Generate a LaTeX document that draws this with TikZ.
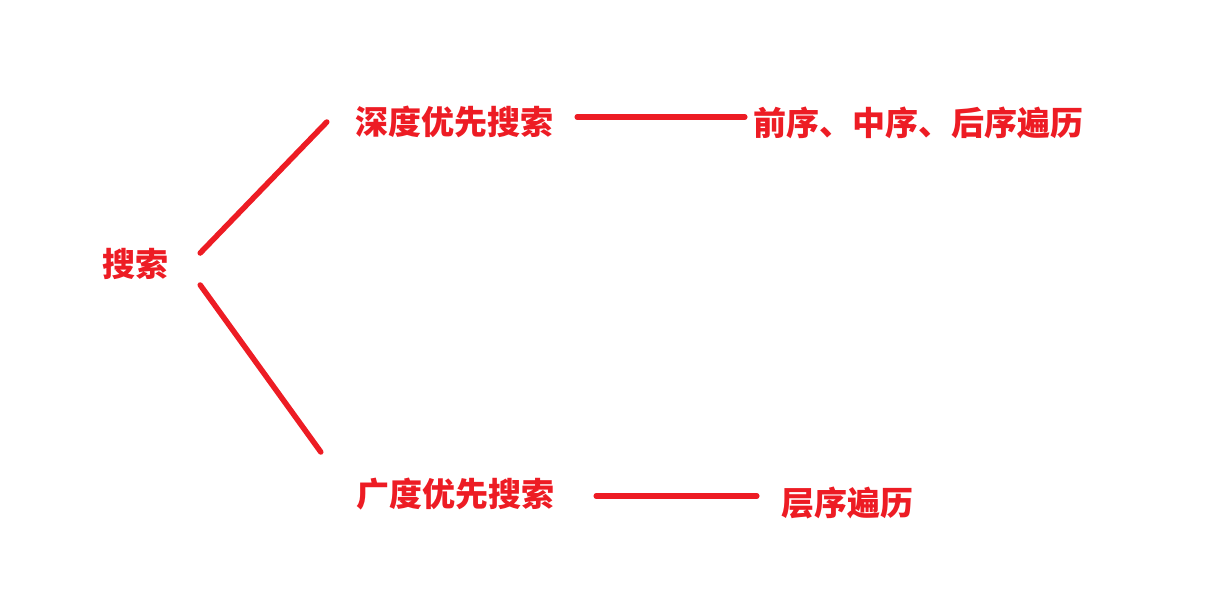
\documentclass[tikz,border=0pt]{standalone}
\usepackage{fontspec}
\newfontfamily\cjk{Noto Sans CJK SC}
\definecolor{paintred}{HTML}{ED1C24}
\tikzset{
  lbl/.style={text=paintred, font=\cjk\bfseries\fontsize{33pt}{40pt}\selectfont, inner sep=0pt},
  branch/.style={draw=paintred, line width=5.5pt, line cap=round}
}
\begin{document}
\begin{tikzpicture}[x=1pt,y=-1pt]
\useasboundingbox (0,0) rectangle (1222,615); % page
\node[lbl] (search) at (135,264) {搜索}; % root
\node[lbl] (dfs) at (454,122) {深度优先搜索}; % upper branch
\node[lbl] (bfs) at (455,494) {广度优先搜索}; % lower branch
\node[lbl] (dfsorder) at (918,123) {前序、中序、后序遍历}; % upper leaf
\node[lbl] (bfsorder) at (847,503) {层序遍历}; % lower leaf
\draw[branch] ([xshift=32pt,yshift=11pt]search.east) -- ([xshift=-28pt]dfs.west); % root to dfs
\draw[branch] ([xshift=32pt,yshift=-21pt]search.east) -- ([xshift=-35pt,yshift=42pt]bfs.west); % root to bfs
\draw[branch] ([xshift=24pt,yshift=5pt]dfs.east) -- ([xshift=-8pt,yshift=6pt]dfsorder.west); % dfs to orders
\draw[branch] ([xshift=42pt,yshift=-2pt]bfs.east) -- ([xshift=-24pt,yshift=7pt]bfsorder.west); % bfs to level order
\end{tikzpicture}
\end{document}
